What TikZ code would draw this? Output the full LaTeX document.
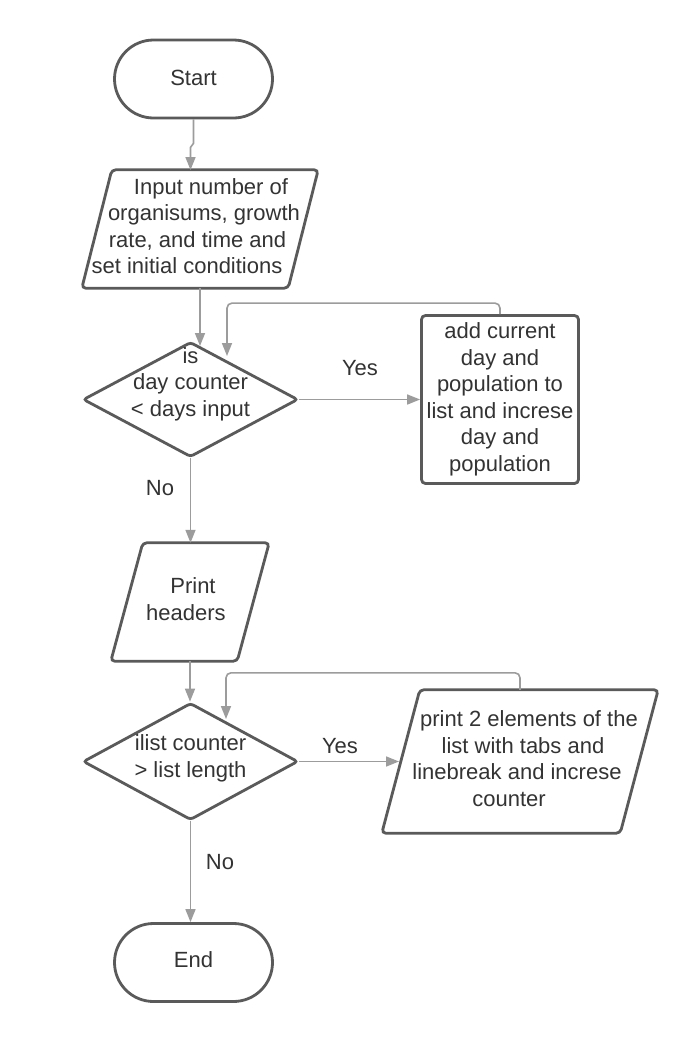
\documentclass[tikz,border=0pt]{standalone}
\usepackage{fontspec}
\setmainfont{Liberation Sans}
\usetikzlibrary{shapes.geometric,arrows.meta,calc}
\definecolor{shp}{HTML}{5A5A5A}
\definecolor{cn}{HTML}{9C9C9C}
\definecolor{tx}{HTML}{333333}
\begin{document}
\begin{tikzpicture}[x=1pt,y=-1pt,
  txt/.style={text=tx, font=\fontsize{22}{26.5}\selectfont, align=center, inner sep=0pt},
  term/.style={txt, draw=shp, line width=2.8pt, rounded corners=39pt, minimum width=158pt, minimum height=78pt},
  procbox/.style={txt, draw=shp, line width=2.8pt, rounded corners=4pt, minimum width=157pt, minimum height=168pt},
  decis/.style={diamond, draw=shp, line width=2.8pt, minimum width=215pt, minimum height=115pt, inner sep=0pt, rounded corners=3pt},
  anchorbox/.style={txt, rectangle, draw=none, text depth=6pt},
  paraline/.style={draw=shp, line width=2.8pt, rounded corners=4pt},
  conn/.style={draw=cn, line width=1.6pt, -{Triangle[length=13pt,width=10pt]}},
  lbl/.style={txt}
]
\useasboundingbox[fill=white] (0,0) rectangle (700,1042);

% Start
\node[term, text depth=2pt] (start) at (193.5,79) {Start};

% Input parallelogram
\node[anchorbox, minimum width=236pt, minimum height=118pt] (input) at (200,229)
  {\hspace*{22pt}Input number of\\\hspace*{8pt}organisums, growth\\\hspace*{-5pt}rate, and time and\\\hspace*{-26pt}set initial conditions};
\draw[paraline] ([xshift=30pt]input.north west) -- (input.north east) -- ([xshift=-30pt]input.south east) -- (input.south west) -- cycle;

% Decision 1
\node[decis] (d1) at (190.5,399.5) {};
\node[txt] (d1t) at (190.5,384) {is\\day counter\\< days input};

% Process box
\node[procbox] (add) at (500,399.5) {add current\\day and\\population to\\list and increse\\day and\\population};

% Print headers parallelogram
\node[anchorbox, minimum width=158pt, minimum height=118pt] (print) at (190,602)
  {\hspace*{6pt}Print\\\hspace*{-8pt}headers};
\draw[paraline] ([xshift=32pt]print.north west) -- (print.north east) -- ([xshift=-32pt]print.south east) -- (print.south west) -- cycle;

% Decision 2
\node[decis, minimum height=117pt] (d2) at (190.5,761.5) {};
\node[txt] (d2t) at (190.5,758.5) {ilist counter\\> list length};

% Print elements parallelogram
\node[anchorbox, minimum width=276pt, minimum height=143pt] (print2) at (520,761.5)
  {\hspace*{18pt}print 2 elements of the\\\hspace*{6pt}list with tabs and\\\hspace*{-6pt}linebreak and increse\\\hspace*{-22pt}counter};
\draw[paraline] ([xshift=38pt]print2.north west) -- (print2.north east) -- ([xshift=-38pt]print2.south east) -- (print2.south west) -- cycle;

% End
\node[term, text depth=6pt] (end) at (193.5,962.5) {End};

% Connector tips / bends
\coordinate (tin) at (190.5,170);
\coordinate (t1) at (200,346);
\coordinate (l1) at (227,356);
\coordinate (l2) at (226,719);
\coordinate (t2) at (399,761.5);

% Connectors
\draw[conn] (start.south) -- ++(0,24) -- ++(-3,4) -- (tin);
\draw[conn] (input.south) -- (t1);
\draw[conn] (d1.east) -- (add.west);
\draw[conn, rounded corners=5pt] (add.north) -- ++(0,-11) -| (l1);
\draw[conn] (d1.south) -- (d1.south |- print.north);
\draw[conn] (print.south) -- (print.south |- d2.north);
\draw[conn] (d2.east) -- (t2);
\draw[conn, rounded corners=5pt] (print2.north) -- ++(0,-17) -| (l2);
\draw[conn] (d2.south) -- (d2.south |- end.north);

% Labels
\node[lbl] (yes1) at (360,368) {Yes};
\node[lbl] (no1) at (160,488) {No};
\node[lbl] (yes2) at (340,746) {Yes};
\node[lbl] (no2) at (220,862) {No};
\end{tikzpicture}
\end{document}
